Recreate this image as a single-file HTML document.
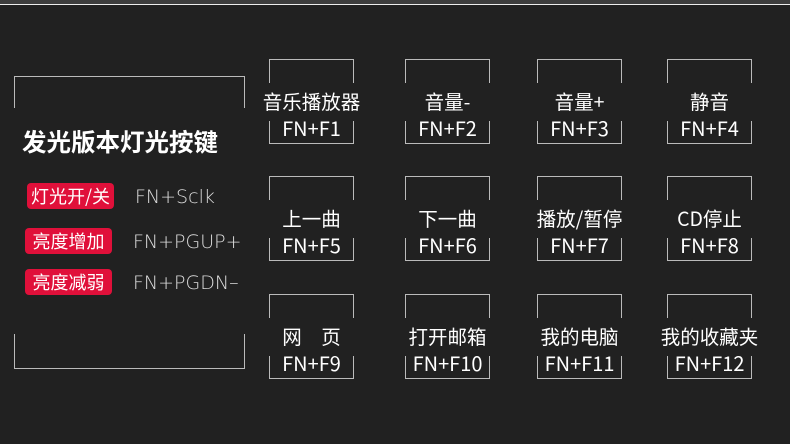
<!DOCTYPE html>
<html><head><meta charset="utf-8"><style>
body{margin:0;width:790px;height:444px;background:#212121;position:relative;overflow:hidden;font-family:"Liberation Sans","Noto Sans CJK SC",sans-serif;color:#fff}
.a{position:absolute}
.k{position:absolute;width:85px;height:85px}
.k .t{position:absolute;left:0;right:0;top:0;height:23px;border:1px solid #bbb;border-bottom:none}
.k .b{position:absolute;left:0;right:0;bottom:0;height:22px;border:1px solid #bbb;border-top:none}
.k .l1,.k .l2{position:absolute;left:-20px;right:-20px;text-align:center;line-height:22px;font-family:"Noto Sans CJK SC",sans-serif}
.k .l1{top:31px;font-size:19.5px}.k .l2{top:58px;font-size:20px}
.r{position:absolute;background:#e0103a;border-radius:4px;font-size:18px;line-height:26px;height:26px;text-align:center;font-family:"Noto Sans CJK SC",sans-serif;white-space:nowrap}
.f{position:absolute;font-size:19px;line-height:22px;color:#ddd;font-family:"DejaVu Sans",sans-serif;font-weight:200}
</style></head><body>
<div class="a" style="left:0;top:0;width:790px;height:4px;background:#3d3d3d"></div>
<div class="a" style="left:0;top:4px;width:790px;height:1px;background:#eee"></div>
<div class="a" style="left:14px;top:76px;width:229px;height:31px;border:1px solid #bbb;border-bottom:none"></div>
<div class="a" style="left:14px;top:334px;width:229px;height:34px;border:1px solid #bbb;border-top:none"></div>
<div class="a" style="left:22px;top:127px;font-size:24.5px;font-weight:bold;font-family:'Noto Sans CJK SC',sans-serif;line-height:30px">发光版本灯光按键</div>
<div class="r" style="left:27px;top:183px;width:87px">灯光开/关</div>
<div class="f" style="left:135px;top:186px">FN+Sclk</div>
<div class="r" style="left:25px;top:228px;width:87px">亮度增加</div>
<div class="f" style="left:133px;top:231px">FN+PGUP+</div>
<div class="r" style="left:25px;top:269px;width:87px">亮度减弱</div>
<div class="f" style="left:133px;top:272px">FN+PGDN–</div>

<div class="k" style="left:269px;top:59px"><div class="t"></div><div class="b"></div><div class="l1">音乐播放器</div><div class="l2">FN+F1</div></div>
<div class="k" style="left:405px;top:59px"><div class="t"></div><div class="b"></div><div class="l1">音量-</div><div class="l2">FN+F2</div></div>
<div class="k" style="left:537px;top:59px"><div class="t"></div><div class="b"></div><div class="l1">音量+</div><div class="l2">FN+F3</div></div>
<div class="k" style="left:667px;top:59px"><div class="t"></div><div class="b"></div><div class="l1">静音</div><div class="l2">FN+F4</div></div>

<div class="k" style="left:269px;top:176px"><div class="t"></div><div class="b"></div><div class="l1">上一曲</div><div class="l2">FN+F5</div></div>
<div class="k" style="left:405px;top:176px"><div class="t"></div><div class="b"></div><div class="l1">下一曲</div><div class="l2">FN+F6</div></div>
<div class="k" style="left:537px;top:176px"><div class="t"></div><div class="b"></div><div class="l1">播放/暂停</div><div class="l2">FN+F7</div></div>
<div class="k" style="left:667px;top:176px"><div class="t"></div><div class="b"></div><div class="l1">CD停止</div><div class="l2">FN+F8</div></div>

<div class="k" style="left:269px;top:294px"><div class="t"></div><div class="b"></div><div class="l1">网　页</div><div class="l2">FN+F9</div></div>
<div class="k" style="left:405px;top:294px"><div class="t"></div><div class="b"></div><div class="l1">打开邮箱</div><div class="l2">FN+F10</div></div>
<div class="k" style="left:537px;top:294px"><div class="t"></div><div class="b"></div><div class="l1">我的电脑</div><div class="l2">FN+F11</div></div>
<div class="k" style="left:667px;top:294px"><div class="t"></div><div class="b"></div><div class="l1">我的收藏夹</div><div class="l2">FN+F12</div></div>
</body></html>
